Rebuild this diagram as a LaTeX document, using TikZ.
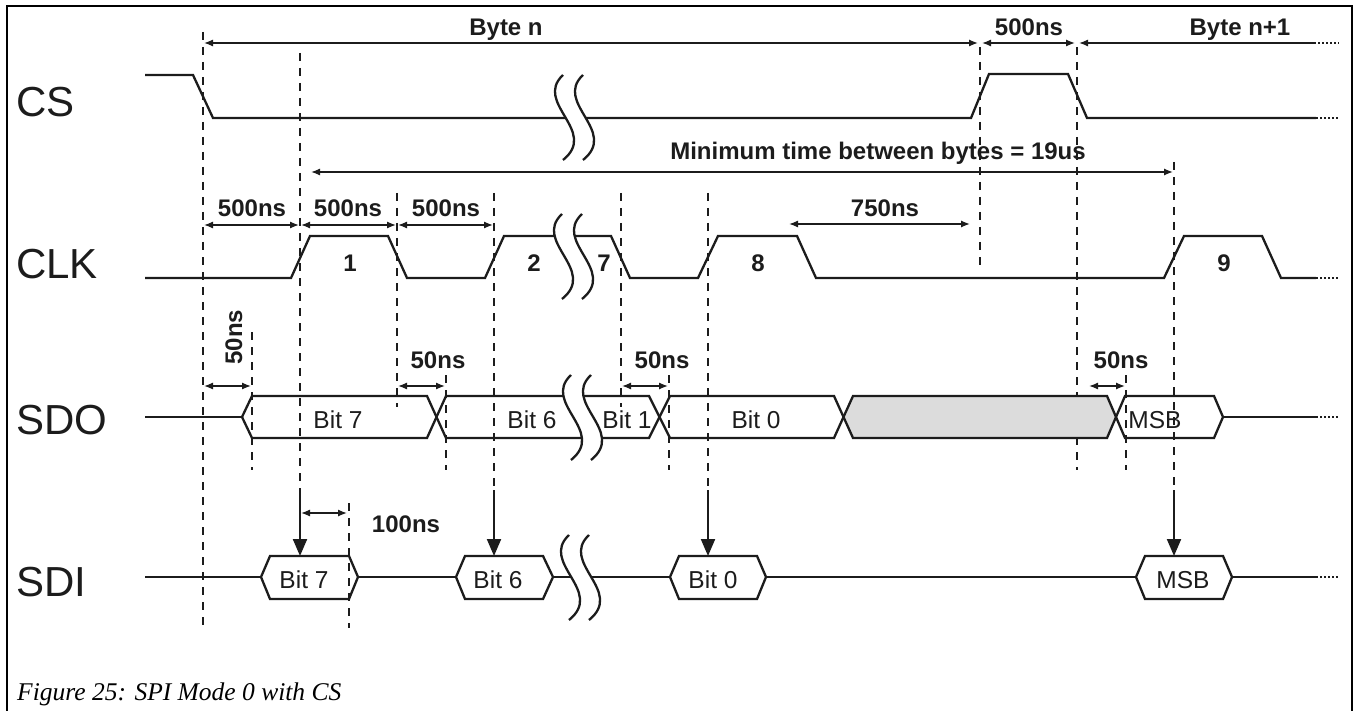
\documentclass[tikz,border=0pt]{standalone}
\usepackage{fontspec}
\setmainfont{Liberation Sans}
\newfontfamily\capfont{Liberation Serif}
\usetikzlibrary{arrows.meta}
\definecolor{ink}{RGB}{28,28,28}
\definecolor{shade}{RGB}{220,220,220}
\begin{document}
\begin{tikzpicture}[x=1pt,y=-1pt,
  sig/.style={line width=2.3pt, draw=ink, line join=miter},
  dsh/.style={line width=1.2pt, draw=ink, dash pattern=on 8pt off 7pt},
  dimarr/.style={line width=1.3pt, draw=ink, {Latex[length=9pt,width=7pt]}-{Latex[length=9pt,width=7pt]}},
  dimleft/.style={line width=1.3pt, draw=ink, {Latex[length=9pt,width=7pt]}-},
  dotend/.style={line width=1.5pt, draw=ink, dash pattern=on 2pt off 2pt},
  downarr/.style={line width=2.1pt, draw=ink, -{Triangle[length=17pt,width=14pt]}},
  bld/.style={font=\fontsize{24}{28}\selectfont\bfseries, inner sep=0pt, text=ink, anchor=base},
  reg/.style={font=\fontsize{24.5}{28}\selectfont, inner sep=0pt, text=ink, anchor=base},
  big/.style={font=\fontsize{42}{46}\selectfont, inner sep=0pt, text=ink, anchor=base west},
  brk/.pic={
    \fill[white] (0,0) .. controls (-30,28) and (36,56) .. (0,85) -- (20,85) .. controls (56,56) and (-10,28) .. (20,0) -- cycle;
    \draw[sig] (0,0) .. controls (-30,28) and (36,56) .. (0,85);
    \draw[sig] (20,0) .. controls (-10,28) and (56,56) .. (20,85);
  }]
\useasboundingbox (0,0) rectangle (1356,711);
% frame
\draw[line width=1.5pt, draw=black] (7,712) -- (7,6) -- (1352,6) -- (1352,712);

% dashed guide lines
\draw[dsh] (203,32) -- (203,628);
\draw[dsh] (300,53) -- (300,490);
\draw[dsh] (397,193) -- (397,407);
\draw[dsh] (494,193) -- (494,490);
\draw[dsh] (621,193) -- (621,407);
\draw[dsh] (708,193) -- (708,490);
\draw[dsh] (980,47) -- (980,267);
\draw[dsh] (1077,47) -- (1077,470);
\draw[dsh] (1174,162) -- (1174,490);
\draw[dsh] (252,332) -- (252,470);
\draw[dsh] (446,375) -- (446,470);
\draw[dsh] (669,375) -- (669,470);
\draw[dsh] (1126,375) -- (1126,470);
\draw[dsh] (349,503) -- (349,628);

% CS
\draw[sig] (145,75) -- (193,75) -- (213,118) -- (971,118) -- (989,74) -- (1068,74) -- (1087,118) -- (1316,118);
\draw[dotend] (1316,118) -- (1339,118);
% CLK
\draw[sig] (145,278) -- (291,278) -- (310,236) -- (388,236) -- (407,278) -- (485,278) -- (504,236)
  -- (611,236) -- (630,278) -- (698,278) -- (718,236) -- (797,236) -- (816,278) -- (1164,278)
  -- (1184,236) -- (1262,236) -- (1281,278) -- (1316,278);
\draw[dotend] (1316,278) -- (1339,278);
% SDO
\draw[sig] (145,417) -- (242,417);
\draw[sig] (242,417) -- (252,396) -- (427,396) -- (436.5,417) -- (427,438) -- (252,438) -- cycle;
\draw[sig] (436.5,417) -- (446,396) -- (649,396) -- (659.5,417) -- (649,438) -- (446,438) -- cycle;
\draw[sig] (659.5,417) -- (670,396) -- (834,396) -- (843.5,417) -- (834,438) -- (670,438) -- cycle;
\draw[sig, fill=shade] (843.5,417) -- (853,396) -- (1107,396) -- (1116,417) -- (1107,438) -- (853,438) -- cycle;
\draw[sig] (1116,417) -- (1125,396) -- (1214,396) -- (1223,417) -- (1214,438) -- (1125,438) -- cycle;
\draw[sig] (1223,417) -- (1316,417);
\draw[dotend] (1316,417) -- (1339,417);
% SDI
\draw[sig] (145,577) -- (261,577);
\draw[sig] (261,577) -- (270,556) -- (349,556) -- (358,577) -- (349,599) -- (270,599) -- cycle;
\draw[sig] (358,577) -- (456,577);
\draw[sig] (456,577) -- (465,556) -- (543,556) -- (553,577) -- (543,599) -- (465,599) -- cycle;
\draw[sig] (553,577) -- (670,577);
\draw[sig] (670,577) -- (679,556) -- (757,556) -- (766,577) -- (757,599) -- (679,599) -- cycle;
\draw[sig] (766,577) -- (1136,577);
\draw[sig] (1136,577) -- (1145,556) -- (1223,556) -- (1232,577) -- (1223,599) -- (1145,599) -- cycle;
\draw[sig] (1232,577) -- (1316,577);
\draw[dotend] (1316,577) -- (1339,577);

% breaks
\pic at (563,75) {brk};
\pic at (562,214) {brk};
\pic at (571,375) {brk};
\pic at (569,535) {brk};

% sampling arrows
\draw[downarr] (300,490) -- (300,556);
\draw[downarr] (494,490) -- (494,556);
\draw[downarr] (708,490) -- (708,556);
\draw[downarr] (1174,490) -- (1174,556);

% dimension arrows
\draw[dimarr] (204,43) -- (978,43);
\draw[dimarr] (982,43) -- (1075,43);
\draw[dimleft] (1079,43) -- (1314,43);
\draw[dotend] (1314,43) -- (1339,43);
\draw[dimarr] (311,172) -- (1173,172);
\draw[dimarr] (204,225) -- (299,225);
\draw[dimarr] (301,225) -- (396,225);
\draw[dimarr] (398,225) -- (493,225);
\draw[dimarr] (789,224) -- (970,224);
\draw[dimarr] (204,386) -- (251,386);
\draw[dimarr] (398,386) -- (445,386);
\draw[dimarr] (622,386) -- (668,386);
\draw[dimarr] (1089,386) -- (1125,386);
\draw[dimarr] (301,513) -- (347,513);

% labels
\node[bld] (byten) at (506,36) {Byte n};
\node[bld] (t500top) at (1029,36) {500ns};
\node[bld] (byten1) at (1240,36) {Byte n+1};
\node[bld] (mintime) at (878,160) {Minimum time between bytes = 19us};
\node[bld] (t500a) at (252,217) {500ns};
\node[bld] (t500b) at (348,217) {500ns};
\node[bld] (t500c) at (446,217) {500ns};
\node[bld] (t750) at (885,217) {750ns};
\node[bld] (c1) at (350,271) {1};
\node[bld] (c2) at (534,271) {2};
\node[bld] (c7) at (604,271) {7};
\node[bld] (c8) at (758,271) {8};
\node[bld] (c9) at (1224,271) {9};
\node[bld, rotate=90] (t50a) at (242,337) {50ns};
\node[bld] (t50b) at (438,368) {50ns};
\node[bld] (t50c) at (662,368) {50ns};
\node[bld] (t50d) at (1121,368) {50ns};
\node[bld] (t100) at (406,532) {100ns};

\node[reg] (o7) at (338,428) {Bit 7};
\node[reg] (o6) at (532,428) {Bit 6};
\node[reg] (o1) at (627,428) {Bit 1};
\node[reg] (o0) at (756,428) {Bit 0};
\node[reg] (omsb) at (1155,428) {MSB};
\node[reg] (i7) at (304,588) {Bit 7};
\node[reg] (i6) at (498,588) {Bit 6};
\node[reg] (i0) at (713,588) {Bit 0};
\node[reg] (imsb) at (1183,588) {MSB};

\node[big] (lcs) at (16,117) {CS};
\node[big] (lclk) at (16,278) {CLK};
\node[big] (lsdo) at (16,434) {SDO};
\node[big] (lsdi) at (16,596) {SDI};

\node[font=\capfont\itshape\fontsize{25.5}{30}\selectfont, inner sep=0pt, anchor=base west, text=black] (cap) at (17,700) {Figure 25: SPI Mode 0 with CS};
\end{tikzpicture}
\end{document}
